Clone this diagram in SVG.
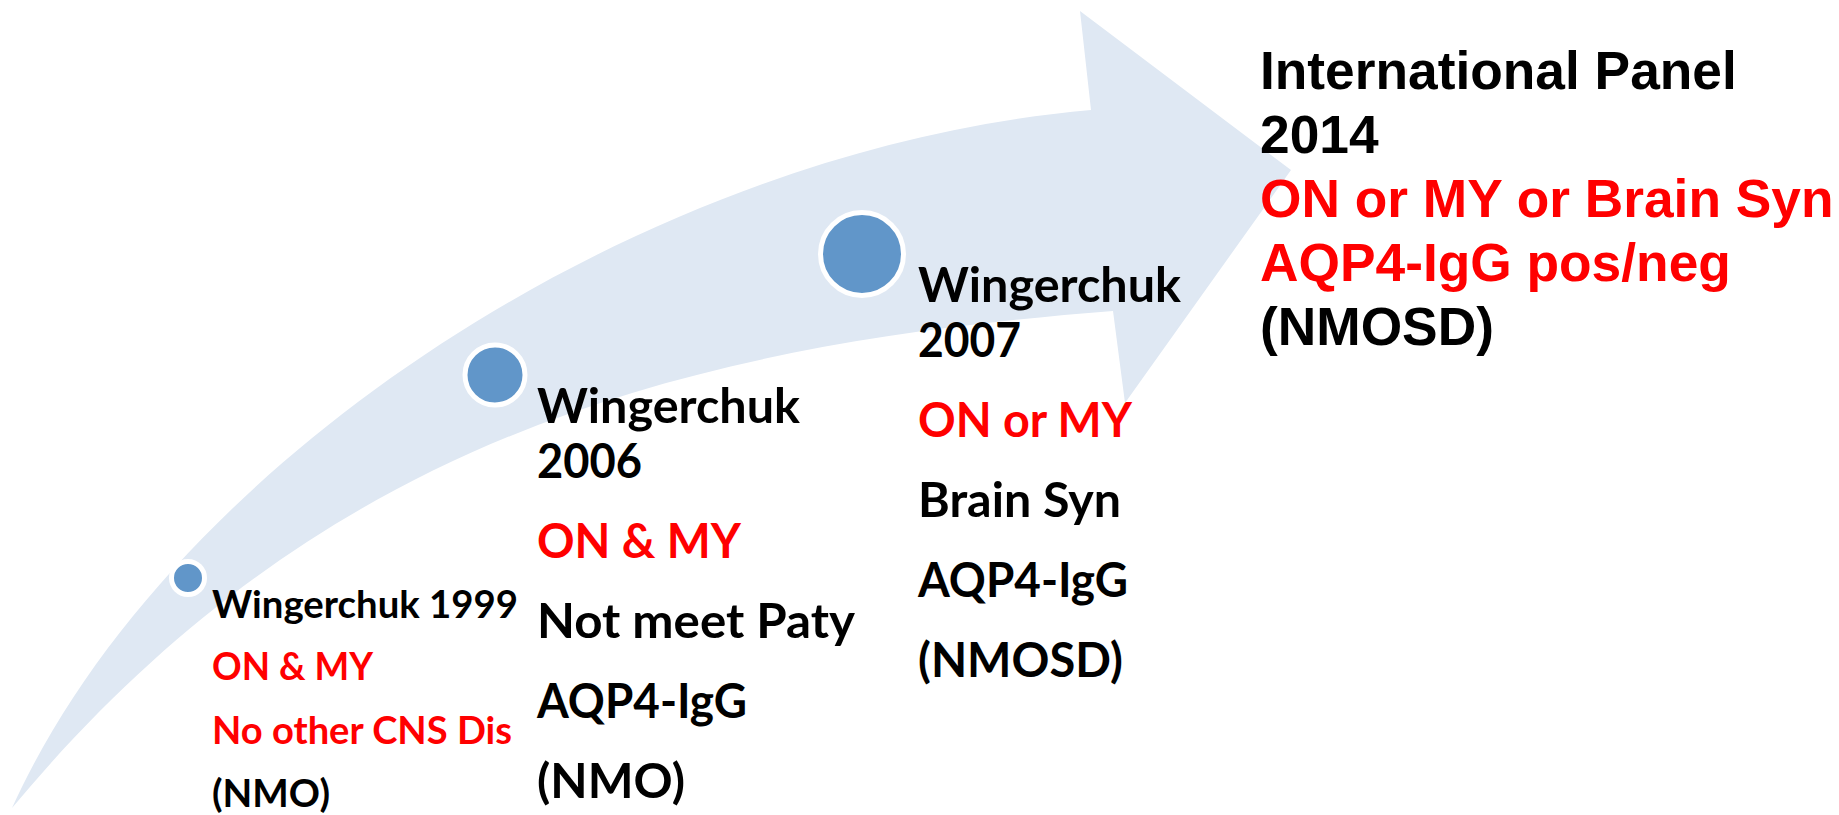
<svg xmlns="http://www.w3.org/2000/svg" width="1839" height="815" viewBox="0 0 1839 815">
<style>
.cal{font-family:Lato,"Open Sans","Liberation Sans",sans-serif;font-weight:bold}
.ari{font-family:"Liberation Sans",Arial,sans-serif;font-weight:bold;font-size:53.3px}
.s1{font-size:38px}
.s2{font-size:48px}
.k{fill:#000}
.r{fill:#FF0000}
.dot{fill:#6196C9;stroke:#FFFFFF;stroke-width:5}
</style>
<rect width="1839" height="815" fill="#FFFFFF"/>
<g id="arrow">
<path d="M 12,808 C 170,460 640,150 1091,110 L 1080,11 L 1291,170 L 1125,403 L 1113,311 C 663,346 312,448 12,808 Z" fill="#DFE8F3"/>
</g>
<g id="connectors"></g>
<g id="node-1999">
<circle class="dot" cx="188" cy="578" r="16.5"/>
<text class="cal s1 k" x="212" y="618" textLength="306" lengthAdjust="spacingAndGlyphs">Wingerchuk 1999</text>
<text class="cal s1 r" x="212" y="680" textLength="161" lengthAdjust="spacingAndGlyphs">ON &amp; MY</text>
<text class="cal s1 r" x="212" y="744" textLength="300" lengthAdjust="spacingAndGlyphs">No other CNS Dis</text>
<text class="cal s1 k" x="212" y="807" textLength="118" lengthAdjust="spacingAndGlyphs">(NMO)</text>
</g>
<g id="node-2006">
<circle class="dot" cx="495" cy="375" r="30"/>
<text class="cal s2 k" x="537" y="423" textLength="263" lengthAdjust="spacingAndGlyphs">Wingerchuk</text>
<text class="cal s2 k" x="537" y="478" textLength="105" lengthAdjust="spacingAndGlyphs">2006</text>
<text class="cal s2 r" x="537" y="558" textLength="204" lengthAdjust="spacingAndGlyphs">ON &amp; MY</text>
<text class="cal s2 k" x="537" y="638" textLength="318" lengthAdjust="spacingAndGlyphs">Not meet Paty</text>
<text class="cal s2 k" x="537" y="718" textLength="210" lengthAdjust="spacingAndGlyphs">AQP4-IgG</text>
<text class="cal s2 k" x="537" y="798" textLength="148" lengthAdjust="spacingAndGlyphs">(NMO)</text>
</g>
<g id="node-2007">
<circle class="dot" cx="862" cy="254" r="41.5"/>
<text class="cal s2 k" x="918" y="302" textLength="263" lengthAdjust="spacingAndGlyphs">Wingerchuk</text>
<text class="cal s2 k" x="918" y="357" textLength="103" lengthAdjust="spacingAndGlyphs">2007</text>
<text class="cal s2 r" x="918" y="437" textLength="214" lengthAdjust="spacingAndGlyphs">ON or MY</text>
<text class="cal s2 k" x="918" y="517" textLength="203" lengthAdjust="spacingAndGlyphs">Brain Syn</text>
<text class="cal s2 k" x="918" y="597" textLength="210" lengthAdjust="spacingAndGlyphs">AQP4-IgG</text>
<text class="cal s2 k" x="918" y="677" textLength="205" lengthAdjust="spacingAndGlyphs">(NMOSD)</text>
</g>
<g id="node-2014">
<text class="ari k" x="1260" y="89">International Panel</text>
<text class="ari k" x="1260" y="153">2014</text>
<text class="ari r" x="1260" y="217">ON or MY or Brain Syn</text>
<text class="ari r" x="1260" y="281">AQP4-IgG pos/neg</text>
<text class="ari k" x="1260" y="345">(NMOSD)</text>
</g>
</svg>
